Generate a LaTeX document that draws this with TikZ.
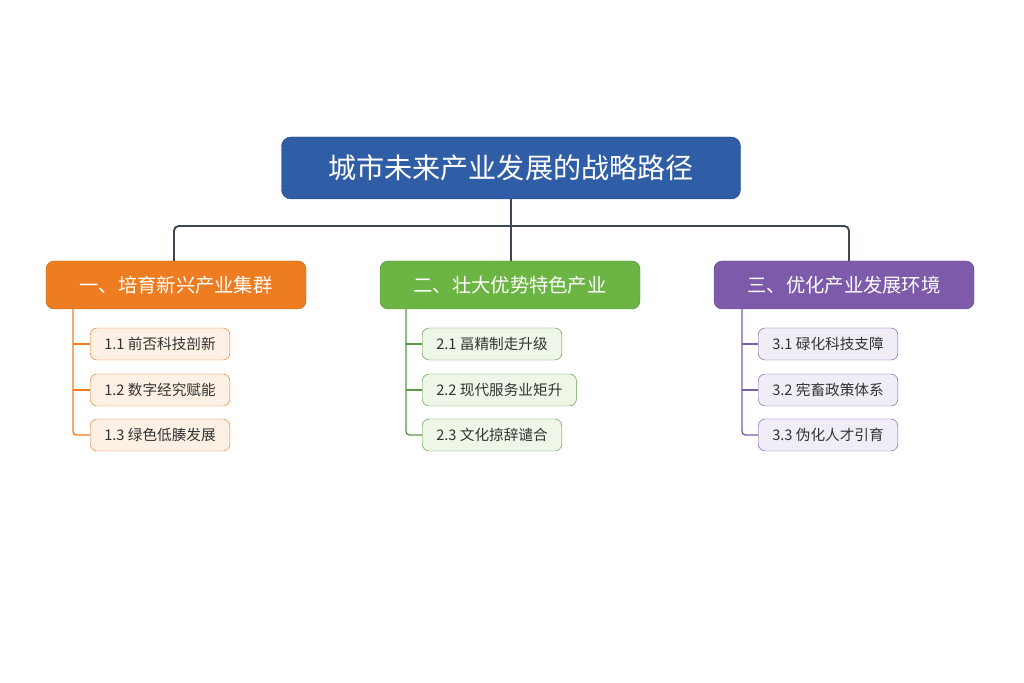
\documentclass[tikz,border=0pt]{standalone}
\usepackage{fontspec}
\setmainfont{Noto Sans CJK SC}
\definecolor{titleblue}{HTML}{2F5DA6}
\definecolor{busgray}{HTML}{3E4756}
\definecolor{orangeA}{HTML}{EE7D22}
\definecolor{orangeB}{HTML}{FDF0E4}
\definecolor{greenA}{HTML}{6CB545}
\definecolor{greenB}{HTML}{EEF6E8}
\definecolor{greenL}{HTML}{5A9A45}
\definecolor{purpleA}{HTML}{7D5BAA}
\definecolor{purpleB}{HTML}{F1EDF6}
\definecolor{subtext}{HTML}{333333}
\begin{document}
\begin{tikzpicture}[x=0.03cm, y=-0.03cm,
    title/.style={draw=titleblue!80!black, fill=titleblue, rounded corners=8pt, text=white,
      minimum width=459*0.03cm, minimum height=62*0.03cm, font=\fontsize{24}{28}\selectfont},
    cat/.style={draw=#1!80!black, fill=#1, rounded corners=7pt, text=white,
      minimum width=260*0.03cm, minimum height=48*0.03cm, font=\fontsize{16.5}{20}\selectfont},
    sub/.style 2 args={draw=#1, fill=#2, rounded corners=6pt, text=subtext, anchor=west,
      minimum height=32*0.03cm, inner xsep=12pt, font=\fontsize{12.5}{15}\selectfont},
    link/.style={line width=1.6pt, draw=#1}]
  \useasboundingbox (0,0) rectangle (1024,683);

  \node[title] (root) at (511,168) {城市未来产业发展的战略路径};

  \node[cat=orangeA] (c1) at (176,285) {一、培育新兴产业集群};
  \node[cat=greenA]  (c2) at (510,285) {二、壮大优势特色产业};
  \node[cat=purpleA] (c3) at (844,285) {三、优化产业发展环境};

  % bus
  \coordinate (b0) at (511,226);
  \coordinate (b1) at (174,226);
  \coordinate (b3) at (849,226);
  \draw[link=busgray, rounded corners=4pt] (c1.north -| b1) -- (b1) -- (b3) -- (c3.north -| b3);
  \draw[link=busgray] (root.south) -- (c2.north -| b0);

  % sub items
  \node[sub={orangeA}{orangeB}] (s11) at (90,344) {1.1 前否科技剖新};
  \node[sub={orangeA}{orangeB}] (s12) at (90,390) {1.2 数字经究赋能};
  \node[sub={orangeA}{orangeB}] (s13) at (90,435) {1.3 绿色低腠发展};
  \node[sub={greenL}{greenB}] (s21) at (422,344) {2.1 畐精制走升级};
  \node[sub={greenL}{greenB}] (s22) at (422,390) {2.2 现代服务业矩升};
  \node[sub={greenL}{greenB}] (s23) at (422,435) {2.3 文化掠辞谴合};
  \node[sub={purpleA}{purpleB}] (s31) at (758,344) {3.1 碌化科技支障};
  \node[sub={purpleA}{purpleB}] (s32) at (758,390) {3.2 宪畜政策体系};
  \node[sub={purpleA}{purpleB}] (s33) at (758,435) {3.3 伪化人才引育};

  % branches
  \foreach \c/\x/\col in {1/73/orangeA, 2/406/greenL, 3/742/purpleA} {
    \coordinate (t\c) at (\x,309);
    \draw[line width=1.2pt, draw=\col, rounded corners=3pt] (t\c) |- (s\c3.west);
    \foreach \r in {1,2} \draw[line width=1.2pt, draw=\col] (t\c |- s\c\r.west) -- (s\c\r.west);
  }
\end{tikzpicture}
\end{document}
